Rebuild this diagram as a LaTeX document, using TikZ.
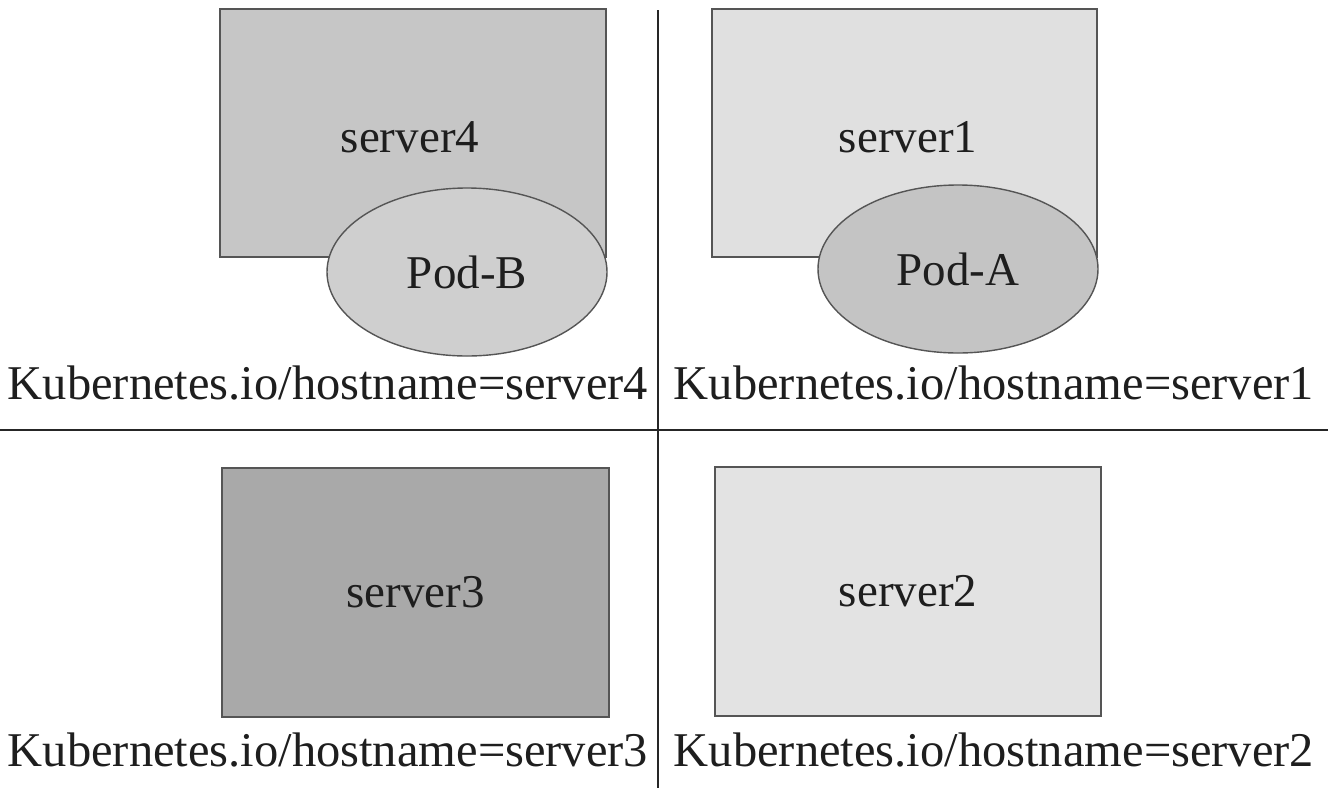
\documentclass[tikz,border=0pt]{standalone}
\usepackage{fontspec}
\setmainfont{Liberation Serif}
\usetikzlibrary{shapes.geometric}
\definecolor{gFour}{HTML}{C6C6C6}
\definecolor{gPodB}{HTML}{CFCFCF}
\definecolor{gOne}{HTML}{E0E0E0}
\definecolor{gPodA}{HTML}{C4C4C4}
\definecolor{gThree}{HTML}{A9A9A9}
\definecolor{gTwo}{HTML}{E3E3E3}
\definecolor{edge}{HTML}{555555}
\definecolor{ink}{HTML}{1E1E1E}
\begin{document}
\begin{tikzpicture}[x=1pt,y=-1pt,
  srv/.style={draw=edge,line width=1.4pt,rectangle,inner sep=0pt,text=ink,
    font=\fontsize{47}{50}\selectfont},
  pod/.style={draw=edge,line width=1.4pt,ellipse,inner sep=0pt,
    minimum width=280pt,minimum height=168pt,text=ink,
    font=\fontsize{47}{50}\selectfont},
  lbl/.style={inner sep=0pt,text=ink,font=\fontsize{48.5}{52}\selectfont},
  sep/.style={draw=black!85,line width=1.8pt}]
\useasboundingbox (0,0) rectangle (1328,788);
\fill[white] (0,0) rectangle (1328,788);
% separators
\coordinate (vt) at (658,10);
\coordinate (vb) at (658,788);
\coordinate (hl) at (0,430);
\coordinate (hr) at (1328,430);
\draw[sep] (vt) -- (vb);
\draw[sep] (hl) -- (hr);
% top left
\node[srv,fill=gFour,minimum width=386pt,minimum height=248pt] (s4) at (413,133) {};
\node[text=ink,font=\fontsize{47}{50}\selectfont,inner sep=0pt] (s4t) at (410,137) {server4};
\node[pod,fill=gPodB] (pb) at (467,272) {Pod-B};
\node[lbl] (l4) at (328,383) {Kubernetes.io/hostname=server4};
% top right
\node[srv,fill=gOne,minimum width=385pt,minimum height=248pt] (s1) at (904.5,133) {};
\node[text=ink,font=\fontsize{47}{50}\selectfont,inner sep=0pt] (s1t) at (908,137) {server1};
\node[pod,fill=gPodA] (pa) at (958,269) {Pod-A};
\node[lbl] (l1) at (994,383) {Kubernetes.io/hostname=server1};
% bottom left
\node[srv,fill=gThree,minimum width=387pt,minimum height=249pt] (s3) at (415.5,592.5) {server3};
\node[lbl] (l3) at (328,750) {Kubernetes.io/hostname=server3};
% bottom right
\node[srv,fill=gTwo,minimum width=386pt,minimum height=249pt] (s2) at (908,591.5) {server2};
\node[lbl] (l2) at (994,750) {Kubernetes.io/hostname=server2};
\end{tikzpicture}
\end{document}
